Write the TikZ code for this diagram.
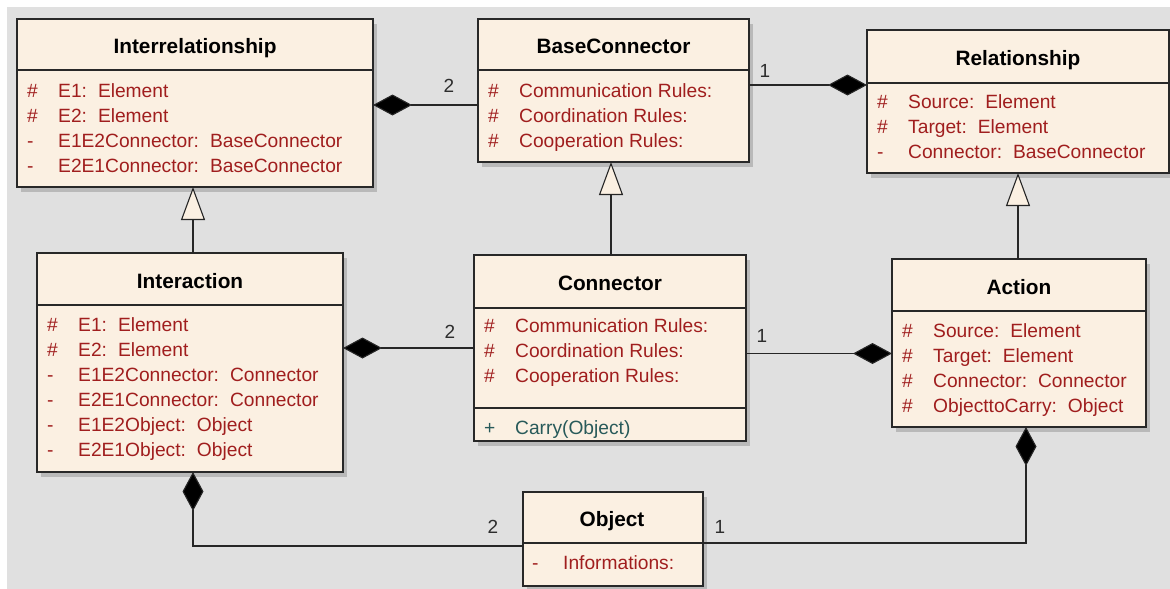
\documentclass[tikz,border=0pt]{standalone}
\usepackage{fontspec}
\setmainfont{Liberation Sans}
\usetikzlibrary{arrows.meta,shadows}
\definecolor{boxfill}{RGB}{251,240,226}
\definecolor{boxline}{RGB}{40,40,40}
\definecolor{attrred}{RGB}{160,30,30}
\definecolor{opteal}{RGB}{40,90,90}
\definecolor{bggray}{RGB}{224,224,224}
\definecolor{shadowgray}{RGB}{185,185,185}
\definecolor{multcol}{RGB}{45,45,45}
\newcommand{\umlrow}[6]{%
  \node[attrtxt,text=#6,anchor=base west] (#1-s) at (#2,#3) {#4};
  \node[attrtxt,text=#6,anchor=base west] (#1-n) at ({#2+31},#3) {#5};}
\newcommand{\tgap}{\hspace{11pt}}
\begin{document}
\begin{tikzpicture}[x=1pt,y=-1pt,
  classbox/.style={draw=boxline, line width=1.3pt, fill=boxfill, anchor=north west,
    inner sep=0pt, outer sep=0pt,
    drop shadow={shadow xshift=4pt, shadow yshift=-5pt, fill=shadowgray, opacity=1}},
  divider/.style={draw=boxline, line width=1.3pt},
  titletxt/.style={font=\bfseries\fontsize{20.8}{24}\selectfont, text=black, inner sep=0pt, anchor=base},
  attrtxt/.style={font=\fontsize{19.2}{22}\selectfont, inner sep=0pt},
  multtxt/.style={font=\fontsize{19}{22}\selectfont, text=multcol, inner sep=0pt, anchor=base},
  comp/.style={draw=black!85, line width=1.1pt, -{Diamond[length=39pt,width=21pt,fill=black]}},
  gen/.style={draw=black!85, line width=1.1pt, -{Triangle[open,length=33pt,width=24pt,fill=boxfill,line width=1.1pt]}}
]
\useasboundingbox (0,0) rectangle (1170,589);
\fill[white] (0,0) rectangle (1170,589);
\fill[bggray] (7,7) rectangle (1170,589);

% ---- class boxes
\node[classbox, minimum width=356pt, minimum height=168pt] (ir) at (17,19) {};
\node[classbox, minimum width=271pt, minimum height=143pt] (bc) at (478,19) {};
\node[classbox, minimum width=302pt, minimum height=143pt] (rel) at (867,30) {};
\node[classbox, minimum width=306pt, minimum height=219pt] (ia) at (37,253) {};
\node[classbox, minimum width=272pt, minimum height=186pt] (cn) at (474,255) {};
\node[classbox, minimum width=254pt, minimum height=168pt] (ac) at (892,259) {};
\node[classbox, minimum width=180pt, minimum height=94pt] (obj) at (523,492) {};

% ---- dividers
\draw[divider] (ir.west |- 0,70) -- (ir.east |- 0,70);
\draw[divider] (bc.west |- 0,70) -- (bc.east |- 0,70);
\draw[divider] (rel.west |- 0,83) -- (rel.east |- 0,83);
\draw[divider] (ia.west |- 0,305) -- (ia.east |- 0,305);
\draw[divider] (cn.west |- 0,308) -- (cn.east |- 0,308);
\draw[divider] (cn.west |- 0,408) -- (cn.east |- 0,408);
\draw[divider] (ac.west |- 0,311) -- (ac.east |- 0,311);
\draw[divider] (obj.west |- 0,543) -- (obj.east |- 0,543);

% ---- titles
\node[titletxt] (irT) at (195,53) {Interrelationship};
\node[titletxt] (bcT) at (613.5,53) {BaseConnector};
\node[titletxt] (relT) at (1018,65) {Relationship};
\node[titletxt] (iaT) at (190,288) {Interaction};
\node[titletxt] (cnT) at (610,290) {Connector};
\node[titletxt] (acT) at (1019,294) {Action};
\node[titletxt] (objT) at (612,526) {Object};

% ---- attributes
\umlrow{ir1}{27}{97}{\#}{E1:\tgap Element}{attrred}
\umlrow{ir2}{27}{122}{\#}{E2:\tgap Element}{attrred}
\umlrow{ir3}{27}{147}{-}{E1E2Connector:\tgap BaseConnector}{attrred}
\umlrow{ir4}{27}{172}{-}{E2E1Connector:\tgap BaseConnector}{attrred}

\umlrow{bc1}{488}{97}{\#}{Communication Rules:}{attrred}
\umlrow{bc2}{488}{122}{\#}{Coordination Rules:}{attrred}
\umlrow{bc3}{488}{147}{\#}{Cooperation Rules:}{attrred}

\umlrow{rel1}{877}{108}{\#}{Source:\tgap Element}{attrred}
\umlrow{rel2}{877}{133}{\#}{Target:\tgap Element}{attrred}
\umlrow{rel3}{877}{158}{-}{Connector:\tgap BaseConnector}{attrred}

\umlrow{ia1}{47}{331}{\#}{E1:\tgap Element}{attrred}
\umlrow{ia2}{47}{356}{\#}{E2:\tgap Element}{attrred}
\umlrow{ia3}{47}{381}{-}{E1E2Connector:\tgap Connector}{attrred}
\umlrow{ia4}{47}{406}{-}{E2E1Connector:\tgap Connector}{attrred}
\umlrow{ia5}{47}{431}{-}{E1E2Object:\tgap Object}{attrred}
\umlrow{ia6}{47}{456}{-}{E2E1Object:\tgap Object}{attrred}

\umlrow{cn1}{484}{332}{\#}{Communication Rules:}{attrred}
\umlrow{cn2}{484}{357}{\#}{Coordination Rules:}{attrred}
\umlrow{cn3}{484}{382}{\#}{Cooperation Rules:}{attrred}
\umlrow{cn4}{484}{434}{+}{Carry(Object)}{opteal}

\umlrow{ac1}{902}{337}{\#}{Source:\tgap Element}{attrred}
\umlrow{ac2}{902}{362}{\#}{Target:\tgap Element}{attrred}
\umlrow{ac3}{902}{387}{\#}{Connector:\tgap Connector}{attrred}
\umlrow{ac4}{902}{412}{\#}{ObjecttoCarry:\tgap Object}{attrred}

\umlrow{obj1}{532}{569}{-}{Informations:}{attrred}

% ---- generalizations
\draw[gen] (ia.north -| 193,0) -- (ir.south -| 193,0);
\draw[gen] (cn.north -| 611,0) -- (bc.south -| 611,0);
\draw[gen] (ac.north -| 1018,0) -- (rel.south -| 1018,0);

% ---- compositions
\draw[comp] (bc.west |- 0,105) -- (ir.east |- 0,105);
\draw[comp] (bc.east |- 0,85) -- (rel.west |- 0,85);
\draw[comp] (cn.west |- 0,348) -- (ia.east |- 0,348);
\draw[comp] (cn.east |- 0,353.5) -- (ac.west |- 0,353.5);
\draw[comp] (obj.west |- 0,546) -| (ia.south -| 193,0);
\draw[comp] (obj.east |- 0,543) -| (ac.south -| 1026,0);

% ---- multiplicities
\node[multtxt] (m1) at (449,92) {2};
\node[multtxt] (m2) at (765,77) {1};
\node[multtxt] (m3) at (450,338) {2};
\node[multtxt] (m4) at (762,342) {1};
\node[multtxt] (m5) at (493,533) {2};
\node[multtxt] (m6) at (720,533) {1};
\end{tikzpicture}
\end{document}
